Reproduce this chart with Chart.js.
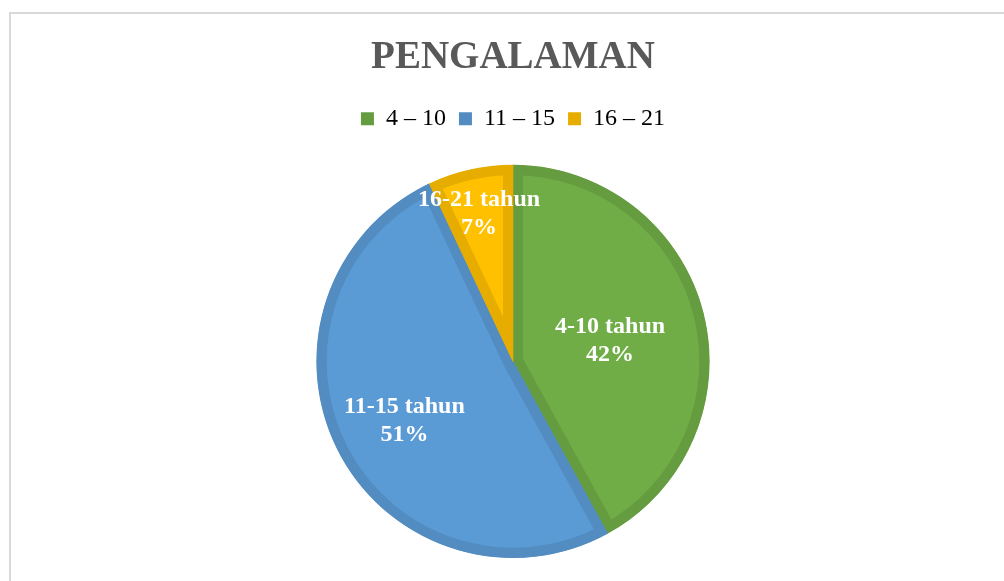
<!DOCTYPE html>
<html>
<head>
<meta charset="utf-8">
<script src="https://cdn.jsdelivr.net/npm/chart.js@4"></script>
<style>
  html, body { margin: 0; padding: 0; background: #fff; overflow: hidden; }
  #wrap { position: relative; width: 1004px; height: 581px; }
  #frame { position: absolute; left: 9px; top: 12px; width: 1100px; height: 700px;
           border-left: 2px solid #d9d9d9; border-top: 2px solid #d9d9d9; }
  canvas { position: absolute; left: 0; top: 0; }
</style>
</head>
<body>
<div id="wrap">
  <div id="frame"></div>
  <canvas id="chart" width="1004" height="581"></canvas>
</div>
<script>
// data
const categories = ['4 – 10', '11 – 15', '16 – 21'];
const sliceLabels = ['4-10 tahun', '11-15 tahun', '16-21 tahun'];
const percentages = [42, 51, 7];

const fillColors = ['#70ad47', '#5b9bd5', '#ffc000'];
const edgeColors = ['#659c40', '#528cc0', '#e6ad00'];

// where each label sits, as a fraction of the radius (Excel best fit)
const labelRadius = [0.51, 0.62, 0.79];

const sliceLabelPlugin = {
    id: 'sliceLabels',
    afterDatasetsDraw(chart) {
        const ctx = chart.ctx;
        const meta = chart.getDatasetMeta(0);
        ctx.save();
        ctx.fillStyle = '#ffffff';
        ctx.font = 'bold 24px "Liberation Serif", "Times New Roman", serif';
        ctx.textAlign = 'center';
        ctx.textBaseline = 'middle';
        meta.data.forEach((arc, i) => {
            const p = arc.getProps(['x', 'y', 'startAngle', 'endAngle', 'outerRadius'], true);
            const mid = (p.startAngle + p.endAngle) / 2;
            const r = p.outerRadius * labelRadius[i];
            const x = p.x + Math.cos(mid) * r;
            const y = p.y + Math.sin(mid) * r;
            ctx.fillText(sliceLabels[i], x, y - 10);
            ctx.fillText(percentages[i] + '%', x, y + 18);
        });
        ctx.restore();
    }
};

// leave some room between the legend and the pie
const legendGap = {
    id: 'legendGap',
    beforeInit(chart) {
        const fit = chart.legend.fit;
        chart.legend.fit = function () {
            fit.call(this);
            this.height += 24;
        };
    }
};

new Chart(document.getElementById('chart'), {
    type: 'pie',
    data: {
        labels: categories,
        datasets: [{
            data: percentages,
            backgroundColor: fillColors,
            borderColor: edgeColors,
            borderWidth: 10,
            borderAlign: 'inner'
        }]
    },
    options: {
        responsive: false,
        animation: false,
        layout: { padding: { left: 22, right: 0, top: 0, bottom: 23 } },
        plugins: {
            title: {
                display: true,
                text: 'PENGALAMAN',
                color: '#595959',
                font: { family: '"Liberation Serif", "Times New Roman", serif', size: 39, weight: 'bold' },
                padding: { top: 35, bottom: 12 }
            },
            legend: {
                display: true,
                position: 'top',
                labels: {
                    color: '#595959',
                    font: { family: '"Liberation Serif", "Times New Roman", serif', size: 24 },
                    boxWidth: 13,
                    boxHeight: 13,
                    padding: 13,
                    generateLabels(chart) {
                        return categories.map((c, i) => ({
                            text: c,
                            fillStyle: edgeColors[i],
                            strokeStyle: edgeColors[i],
                            lineWidth: 0,
                            index: i,
                            hidden: false
                        }));
                    }
                }
            },
            tooltip: { enabled: false }
        }
    },
    plugins: [sliceLabelPlugin, legendGap]
});
</script>
</body>
</html>
